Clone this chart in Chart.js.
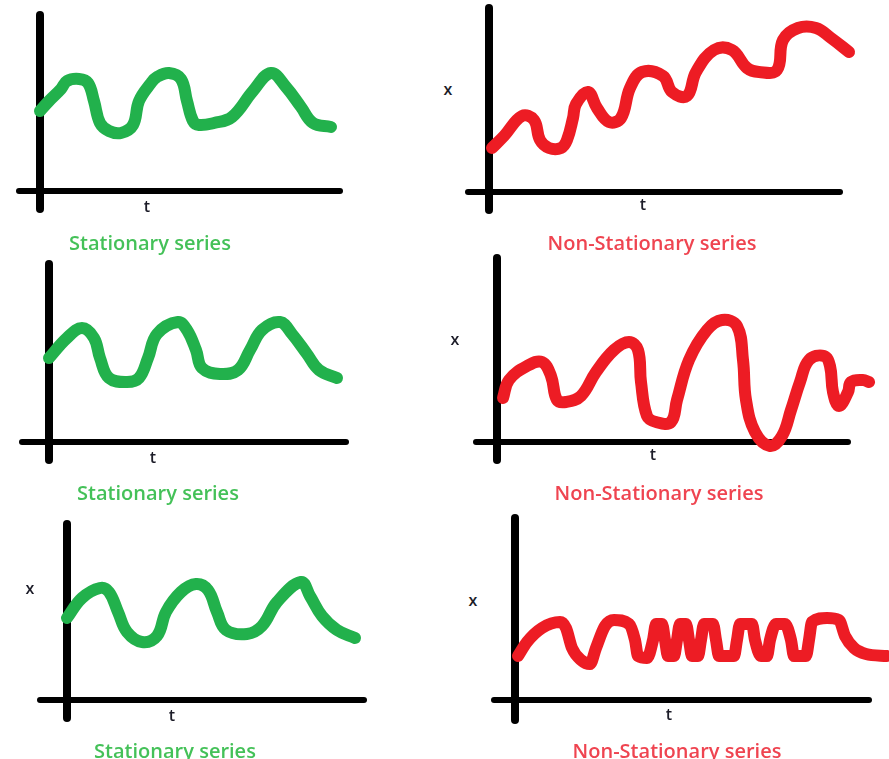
<!DOCTYPE html>
<html>
<head>
<meta charset="utf-8">
<script src="https://cdn.jsdelivr.net/npm/chart.js@4.4.0/dist/chart.umd.min.js"></script>
<style>
  html, body { margin: 0; padding: 0; background: #fff; }
  body { width: 889px; height: 759px; position: relative; overflow: hidden; font-family: "Open Sans", sans-serif; }
  canvas { position: absolute; }
  .lbl { position: absolute; transform: translate(-50%, -50%); white-space: nowrap; }
  .axis { font-size: 16px; font-weight: 600; color: #1c1c28; }
  .cap { font-size: 20px; font-weight: 600; }
  .green { color: #44c158; }
  .red { color: #ef4450; }
</style>
</head>
<body>
<script>
"use strict";

// t = time step, x = value, one pair per panel
const t1 = [0, 3, 7, 9, 13, 16, 18, 20, 23, 27, 31, 33, 37, 39, 43, 47, 49, 51, 53, 58, 64, 71, 77, 82, 87, 91, 97];
const x1 = [40, 45, 51, 55, 56, 54, 45, 34, 30, 29, 33, 45, 54, 57, 59, 56, 45, 35, 33, 34, 37, 50, 59, 52, 42, 34, 32];

const t2 = [1, 5, 11, 15, 17, 20, 24, 26, 28, 29, 33, 36, 40, 44, 47, 51, 58, 61, 66, 69, 75, 81, 86, 90, 96, 98, 103, 109, 114, 120];
const x2 = [22, 28, 38, 36, 26, 22, 22, 26, 37, 44, 50, 42, 35, 37, 52, 60, 58, 50, 48, 60, 71, 71, 62, 60, 61, 76, 82, 82, 77, 70];

const t3 = [0, 6, 11, 15, 17, 20, 26, 30, 33, 36, 43, 46, 49, 51, 57, 63, 67, 71, 77, 81, 86, 90, 96];
const x3 = [42, 52, 57, 52, 42, 32, 30, 32, 42, 54, 60, 56, 46, 37, 34, 36, 46, 56, 60, 54, 44, 36, 32];

const t4 = [2, 4, 10, 15, 18, 20, 23, 28, 33, 39, 44, 47, 48, 50, 53, 58, 60, 64, 70, 75, 80, 82, 83, 86, 91, 95, 98, 101, 104, 109, 111, 112, 114, 117, 118, 122, 124];
const x4 = [22, 31, 38, 40, 33, 21, 20, 23, 35, 46, 50, 46, 30, 13, 10, 10, 21, 41, 56, 61, 58, 41, 21, 5, -2, 3, 16, 30, 41, 43, 38, 25, 18, 25, 30, 31, 30];

const t5 = [0, 5, 11, 14, 17, 20, 25, 30, 33, 38, 43, 47, 50, 53, 60, 65, 70, 78, 81, 85, 90, 96];
const x5 = [41, 51, 56, 54, 44, 34, 29, 32, 44, 54, 58, 55, 44, 35, 33, 37, 49, 59, 52, 42, 35, 31];

const t6 = [1, 4, 9, 15, 17, 19, 22, 25, 27, 30, 33, 38, 40, 41, 44, 46, 47, 49, 50, 51, 53, 54, 55, 57, 58, 59, 61, 62, 63, 66, 67, 68, 73, 74, 75, 79, 80, 82, 84, 85, 87, 90, 92, 93, 97, 98, 99, 104, 108, 110, 113, 117, 124];
const x6 = [22, 29, 36, 39, 36, 26, 20, 18, 26, 37, 40, 38, 30, 22, 21, 30, 38, 38, 30, 22, 22, 30, 38, 38, 30, 22, 22, 30, 38, 38, 30, 22, 22, 30, 38, 38, 30, 22, 22, 30, 38, 38, 30, 22, 22, 30, 39, 41, 40, 32, 26, 23, 22];

const captions = ["Stationary series", "Non-Stationary series"];

const GREEN = "#22b14c";
const RED = "#ed1c24";

// scale: pixels per unit and visible range, same for all panels
const PX_T = 3, PX_X = 2;
const T_MIN = -12, T_MAX = 130, X_MIN = -14, X_MAX = 96;

// where each sketch sits on the page (origin = where the axes cross)
const panels = [
  { t: t1, x: x1, color: GREEN, cap: 0, ox: 40, oy: 191, axes: { vTop: 88, vBottom: -9, hLeft: -7, hRight: 100 }, xLbl: null, tLbl: [147, 206], capPos: [150, 242] },
  { t: t2, x: x2, color: RED, cap: 1, ox: 489, oy: 192, axes: { vTop: 92, vBottom: -9, hLeft: -7, hRight: 117 }, xLbl: [448, 89], tLbl: [643, 204], capPos: [652, 242] },
  { t: t3, x: x3, color: GREEN, cap: 0, ox: 49, oy: 442, axes: { vTop: 89, vBottom: -9, hLeft: -9, hRight: 99 }, xLbl: null, tLbl: [153, 457], capPos: [158, 492] },
  { t: t4, x: x4, color: RED, cap: 1, ox: 497, oy: 442, axes: { vTop: 92, vBottom: -9, hLeft: -7, hRight: 117 }, xLbl: [455, 339], tLbl: [653, 454], capPos: [659, 492] },
  { t: t5, x: x5, color: GREEN, cap: 0, ox: 67, oy: 700, axes: { vTop: 88, vBottom: -9, hLeft: -9, hRight: 99 }, xLbl: [30, 588], tLbl: [172, 715], capPos: [175, 750] },
  { t: t6, x: x6, color: RED, cap: 1, ox: 515, oy: 700, axes: { vTop: 91, vBottom: -10, hLeft: -7, hRight: 118 }, xLbl: [473, 600], tLbl: [669, 714], capPos: [677, 750], square: true },
];

// thick hand-drawn style axes crossing at 0,0
const handAxes = {
  id: "handAxes",
  beforeDatasetsDraw(chart, args, opts) {
    const { ctx, scales: { x, y } } = chart;
    const x0 = x.getPixelForValue(0);
    const y0 = y.getPixelForValue(0);
    ctx.save();
    ctx.strokeStyle = "#000";
    ctx.lineCap = "round";
    ctx.lineWidth = 8;
    ctx.beginPath();
    ctx.moveTo(x0, y.getPixelForValue(opts.vTop));
    ctx.lineTo(x0, y.getPixelForValue(opts.vBottom));
    ctx.stroke();
    ctx.lineWidth = 6;
    ctx.beginPath();
    ctx.moveTo(x.getPixelForValue(opts.hLeft), y0);
    ctx.lineTo(x.getPixelForValue(opts.hRight), y0);
    ctx.stroke();
    ctx.restore();
  },
};

function addLabel(text, pos, cls) {
  const el = document.createElement("div");
  el.className = "lbl " + cls;
  el.textContent = text;
  el.style.left = pos[0] + "px";
  el.style.top = pos[1] + "px";
  document.body.appendChild(el);
}

function drawPanel(p) {
  const w = (T_MAX - T_MIN) * PX_T;
  const h = (X_MAX - X_MIN) * PX_X;
  const canvas = document.createElement("canvas");
  canvas.width = w;
  canvas.height = h;
  canvas.style.width = w + "px";
  canvas.style.height = h + "px";
  canvas.style.left = (p.ox + T_MIN * PX_T) + "px";
  canvas.style.top = (p.oy - X_MAX * PX_X) + "px";
  document.body.appendChild(canvas);

  const points = p.t.map((t, i) => ({ x: t, y: p.x[i] }));

  new Chart(canvas, {
    type: "line",
    data: {
      datasets: [
        {
          data: points,
          borderColor: p.color,
          borderWidth: 12,
          borderCapStyle: "round",
          borderJoinStyle: "round",
          pointRadius: 0,
          tension: 0.4,
          cubicInterpolationMode: p.square ? "monotone" : "default",
          clip: false,
        },
      ],
    },
    options: {
      responsive: false,
      animation: false,
      devicePixelRatio: 1,
      layout: { padding: 0 },
      events: [],
      plugins: {
        legend: { display: false },
        tooltip: { enabled: false },
        handAxes: p.axes,
      },
      scales: {
        x: { type: "linear", min: T_MIN, max: T_MAX, display: false },
        y: { type: "linear", min: X_MIN, max: X_MAX, display: false },
      },
    },
    plugins: [handAxes],
  });

  if (p.xLbl) addLabel("x", p.xLbl, "axis");
  addLabel("t", p.tLbl, "axis");
  addLabel(captions[p.cap], p.capPos, "cap " + (p.cap === 0 ? "green" : "red"));
}

panels.forEach(drawPanel);
</script>
</body>
</html>
